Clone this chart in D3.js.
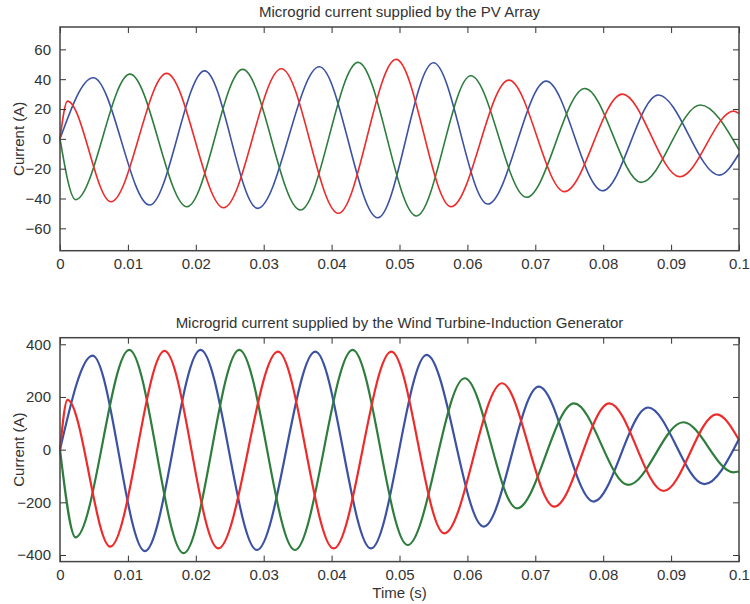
<!DOCTYPE html>
<html>
<head>
<meta charset="utf-8">
<script src="https://cdn.jsdelivr.net/npm/d3@7"></script>
<style>
  body { margin: 0; background: #fff; }
  text { font-family: "Liberation Sans", Arial, sans-serif; fill: #333; }
</style>
</head>
<body>
<div id="chart"></div>
<script>
// ##################################
// Data: [time (s), current (A)] at each peak / trough
// ##################################
const timeTicks = [0, 0.01, 0.02, 0.03, 0.04, 0.05, 0.06, 0.07, 0.08, 0.09, 0.1]
const pvTicks = [-60, -40, -20, 0, 20, 40, 60]
const wtTicks = [-400, -200, 0, 200, 400]

const pvBlue = [[0,0],[0.0049,41],[0.0132,-44.4],[0.0213,45.6],[0.0291,-46.6],[0.0382,48.3],[0.0468,-52.9],[0.055,51],[0.063,-43.7],[0.0716,38.7],[0.0799,-34.8],[0.0881,29.4],[0.0971,-24.3],[0.1,-10]]
const pvGreen = [[0,0],[0.0023,-40.8],[0.0103,43.4],[0.0187,-45.5],[0.0269,46.6],[0.0354,-47.7],[0.0439,51.3],[0.0525,-51.7],[0.0605,42.3],[0.0687,-39.2],[0.0773,33.8],[0.0856,-29.2],[0.0943,22.7],[0.1,-7.5]]
const pvRed = [[0,0],[0.0011,25.3],[0.0075,-42.2],[0.0157,43.9],[0.0241,-46.2],[0.0326,47],[0.041,-49.9],[0.0495,53.3],[0.0576,-45.5],[0.0661,39.4],[0.0743,-35.4],[0.0828,30],[0.0913,-25.4],[0.0992,18.6],[0.1,17]]

const wtBlue = [[0,0],[0.0048,357],[0.0125,-385],[0.0207,379],[0.029,-381],[0.0376,372],[0.0458,-375],[0.054,360],[0.0624,-292],[0.0705,239],[0.0786,-197],[0.0866,160],[0.0949,-131],[0.1,40]]
const wtGreen = [[0,0],[0.0023,-333],[0.0102,379],[0.0182,-393],[0.0264,379],[0.0346,-381],[0.0431,379],[0.0512,-362],[0.0596,271],[0.0673,-223],[0.0757,176],[0.0837,-134],[0.0918,104],[0.0992,-86],[0.1,-83]]
const wtRed = [[0,0],[0.0011,189],[0.0074,-368],[0.0154,375],[0.0233,-375],[0.0321,372],[0.0403,-375],[0.0488,372],[0.0566,-318],[0.0651,252],[0.0728,-216],[0.0809,176],[0.0889,-157],[0.0967,134],[0.1,37]]

const colors = {blue: "#3b51a3", green: "#2e7d3d", red: "#ee2b2b"}

// Store values for svg creation
const W = 750, H = 604
const left = 60, right = 739
const fontSize = 15

const svg = d3.select("#chart")
    .append("svg")
    .attr("width", W)
    .attr("height", H)

// x scale shared by both panels
const x = d3.scaleLinear().domain([0, 0.1]).range([left, right])


// Panel function
function plotPanel(opts) {
    const y = d3.scaleLinear().domain(opts.domain).range([opts.bottom, opts.top])
    const g = svg.append("g")
    const tickLen = 6

    // series, drawn through the extrema with a monotone curve
    const line = d3.line()
        .x(d => x(d[0]))
        .y(d => y(d[1]))
        .curve(d3.curveMonotoneX)

    opts.series.forEach(s => {
        g.append("path")
            .datum(s.data)
            .attr("d", line)
            .attr("fill", "none")
            .attr("stroke", s.color)
            .attr("stroke-width", opts.lineWidth)
            .attr("stroke-linejoin", "round")
    })

    // axes box + inward ticks on all four sides (matlab look)
    const bottomAxis = d3.axisBottom(x).tickValues(timeTicks).tickSizeInner(-tickLen).tickSizeOuter(0).tickPadding(8)
        .tickFormat(d => d === 0 ? "0" : d3.format(".2~f")(d))
    const topAxis = d3.axisTop(x).tickValues(timeTicks).tickSizeInner(-tickLen).tickSizeOuter(0).tickFormat("")
    const leftAxis = d3.axisLeft(y).tickValues(opts.ticks).tickSizeInner(-tickLen).tickSizeOuter(0).tickPadding(9)
    const rightAxis = d3.axisRight(y).tickValues(opts.ticks).tickSizeInner(-tickLen).tickSizeOuter(0).tickFormat("")

    const axes = [
        [bottomAxis, `translate(0,${opts.bottom})`],
        [topAxis, `translate(0,${opts.top})`],
        [leftAxis, `translate(${left},0)`],
        [rightAxis, `translate(${right},0)`]
    ]
    axes.forEach(([ax, tr]) => {
        const a = g.append("g").attr("transform", tr).call(ax)
        a.select(".domain").remove()
        a.selectAll("line").attr("stroke", "#333").attr("stroke-width", 1)
        a.selectAll("text")
            .attr("font-size", fontSize)
            .attr("fill", "#333")
            .style("font-family", "'Liberation Sans', Arial, sans-serif")
    })

    g.append("rect")
        .attr("x", left)
        .attr("y", opts.top)
        .attr("width", right - left)
        .attr("height", opts.bottom - opts.top)
        .attr("fill", "none")
        .attr("stroke", "#444")
        .attr("stroke-width", 1.5)

    // title and y label
    g.append("text")
        .attr("x", (left + right) / 2)
        .attr("y", opts.top - 10)
        .attr("text-anchor", "middle")
        .attr("font-size", fontSize)
        .text(opts.title)

    g.append("text")
        .attr("transform", `translate(24,${(opts.top + opts.bottom) / 2}) rotate(-90)`)
        .attr("text-anchor", "middle")
        .attr("font-size", fontSize)
        .text("Current (A)")

    return g
}

plotPanel({
    title: "Microgrid current supplied by the PV Array",
    domain: [-75, 75], ticks: pvTicks,
    top: 27, bottom: 250.7, lineWidth: 1.6,
    series: [
        {data: pvBlue, color: colors.blue},
        {data: pvGreen, color: colors.green},
        {data: pvRed, color: colors.red}
    ]
})

plotPanel({
    title: "Microgrid current supplied by the Wind Turbine-Induction Generator",
    domain: [-425, 425], ticks: wtTicks,
    top: 337.7, bottom: 561.6, lineWidth: 2.2,
    series: [
        {data: wtBlue, color: colors.blue},
        {data: wtGreen, color: colors.green},
        {data: wtRed, color: colors.red}
    ]
})

// x label
svg.append("text")
    .attr("x", (left + right) / 2)
    .attr("y", 598)
    .attr("text-anchor", "middle")
    .attr("font-size", fontSize)
    .text("Time (s)")
</script>
</body>
</html>
